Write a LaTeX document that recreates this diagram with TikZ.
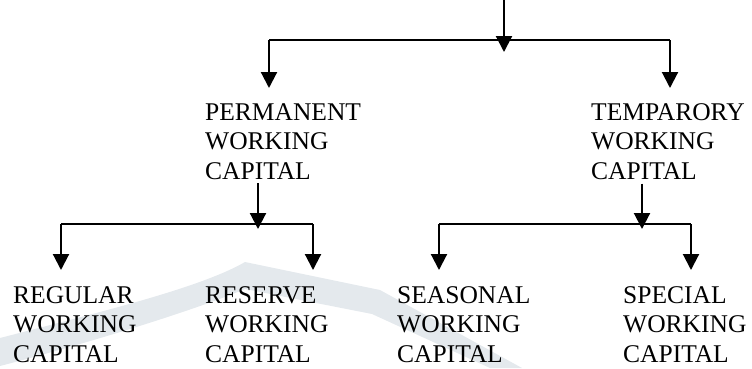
\documentclass[tikz,border=0pt]{standalone}
\usepackage{fontspec}
\setmainfont{Liberation Serif}
\usetikzlibrary{arrows.meta,calc}
\definecolor{wmark}{RGB}{228,233,237}
\begin{document}
\begin{tikzpicture}[x=1pt, y=-1pt,
  txt/.style = {anchor=north west, inner sep=0pt, align=left, font=\fontsize{25.5}{29.5}\selectfont},
  arr/.style = {line width=2.1pt, -{Triangle[width=16pt,length=16pt]}},
  bar/.style = {line width=1.5pt}]
\useasboundingbox (0,0) rectangle (752,368);
% faint watermark behind the tree
\fill[wmark] (0,338) .. controls (100,312) and (200,288) .. (245,262) -- (380,290) -- (522,368)
  -- (490,368) -- (372,314) -- (245,289) .. controls (200,308) and (100,340) .. (0,366) -- cycle;

\node[txt] (perm) at (205,103) {PERMANENT\\WORKING\\CAPITAL};
\node[txt] (temp) at (591,103) {TEMPARORY\\WORKING\\CAPITAL};
\node[txt] (reg) at (13,286) {REGULAR\\WORKING\\CAPITAL};
\node[txt] (res) at (205,286) {RESERVE\\WORKING\\CAPITAL};
\node[txt] (sea) at (397,286) {SEASONAL\\WORKING\\CAPITAL};
\node[txt] (spe) at (623,286) {SPECIAL\\WORKING\\CAPITAL};

\coordinate (root) at (504,0);
\coordinate (j0) at (504,40);
\coordinate (j0l) at (269,40);
\coordinate (j0r) at (670,40);
\coordinate (j1) at (258,224);
\coordinate (j1l) at (61,224);
\coordinate (j1r) at (313,224);
\coordinate (j2) at (642,224);
\coordinate (j2l) at (439,224);
\coordinate (j2r) at (691,224);

% first level
\draw[bar] (j0l) -- (j0r);
\draw[arr] (root) -- ($(j0)+(0,12)$);
\draw[arr] (j0l) -- ($(perm.north -| j0l)+(0,-15)$);
\draw[arr] (j0r) -- ($(temp.north -| j0r)+(0,-15)$);

% permanent branch
\draw[bar] (j1l) -- (j1r);
\draw[arr] ($(perm.south -| j1)+(0,4)$) -- ($(j1)+(0,5)$);
\draw[arr] (j1l) -- ($(reg.north -| j1l)+(0,-16)$);
\draw[arr] (j1r) -- ($(res.north -| j1r)+(0,-16)$);

% temporary branch
\draw[bar] (j2l) -- (j2r);
\draw[arr] ($(temp.south -| j2)+(0,4)$) -- ($(j2)+(0,5)$);
\draw[arr] (j2l) -- ($(sea.north -| j2l)+(0,-16)$);
\draw[arr] (j2r) -- ($(spe.north -| j2r)+(0,-16)$);
\end{tikzpicture}
\end{document}
